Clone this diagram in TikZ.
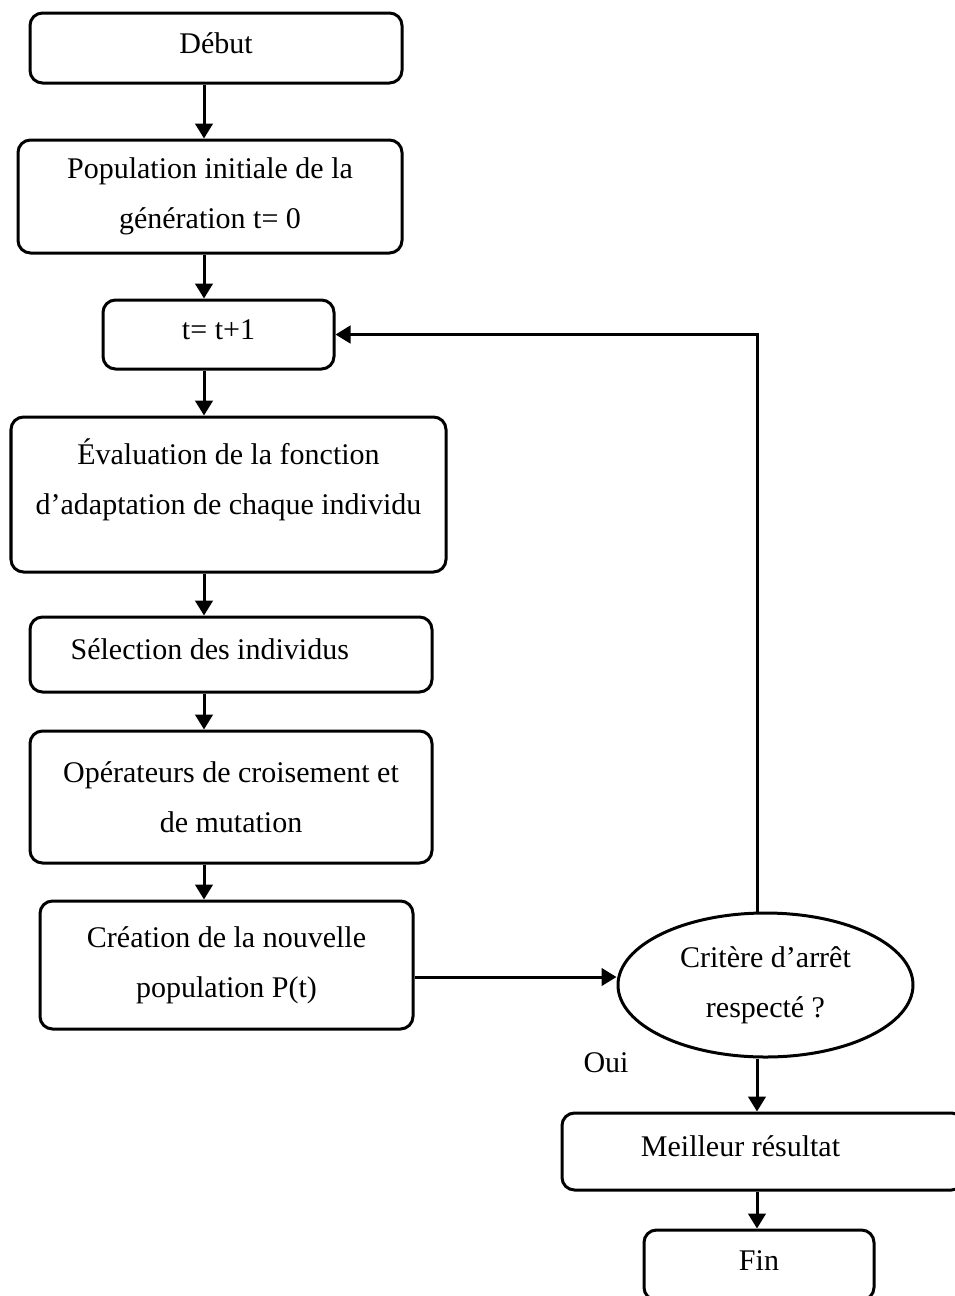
\documentclass[tikz,border=0pt]{standalone}
\usepackage{fontspec}
\setmainfont{Liberation Serif}
\usepackage{tikz}
\usetikzlibrary{arrows.meta,positioning,shapes.geometric}

\begin{document}
\begin{tikzpicture}[x=0.4pt,y=-0.4pt,>={Triangle[width=7pt,length=6pt]},
box/.style={draw,rounded corners=5pt,line width=1.2pt,align=center,inner sep=0pt,font=\fontsize{12}{20}\selectfont},
single/.style={text height=8pt,text depth=4pt},
sz/.style 2 args={minimum width=#1*0.4pt,minimum height=#2*0.4pt},
crit/.style={draw,ellipse,line width=1.2pt,align=center,inner sep=0pt,font=\fontsize{12}{20}\selectfont},
arr/.style={->,line width=1.2pt}]
\clip (0,0) rectangle (955,1296);
\coordinate (col) at (204,0);
\coordinate (rcol) at (757,0);
% left column
\node[box,single,sz={372}{70}] (debut) at (216,48) {Début};
\node[box,sz={384}{113}] (init) at (210,196.5) {Population initiale de la\\génération t= 0};
\node[box,single,sz={231}{69}] (incr) at (218.5,334.5) {t= t+1};
\node[box,sz={435}{155}] (eval) at (228.5,494.5) {Évaluation de la fonction\\d'adaptation de chaque individu\\[-6pt]\mbox{}};
\node[box,single,sz={402}{75}] (sel) at (231,654.5) {Sélection des individus\hspace*{17pt}};
\node[box,sz={402}{132}] (oper) at (231,797) {Opérateurs de croisement et\\de mutation};
\node[box,sz={373}{128}] (creation) at (226.5,965) {Création de la nouvelle\\population P(t)};
% right column
\node[crit,sz={295}{144}] (stop) at (765.5,985) {Critère d'arrêt\\respecté ?};
\node[font=\fontsize{12}{20}\selectfont] (oui) at (606,1063) {Oui};
\node[box,single,sz={402}{77}] (best) at (763,1151.5) {Meilleur résultat\hspace*{18pt}};
\node[box,single,sz={230}{70}] (fin) at (759,1265) {Fin};
\foreach \u/\v in {debut/init,init/incr,incr/eval,eval/sel,sel/oper,oper/creation}{\draw[arr] (\u.south -| col)--(\v.north -| col);}
\draw[arr] ([yshift=3.2pt]stop.west -| creation.east)--([yshift=3.2pt]stop.west);
\draw[arr] (stop.north -| rcol) |- (incr.east);
\draw[arr] (stop.south -| rcol)--(best.north -| rcol);
\draw[arr] (best.south -| rcol)--(fin.north -| rcol);
\end{tikzpicture}
\end{document}
